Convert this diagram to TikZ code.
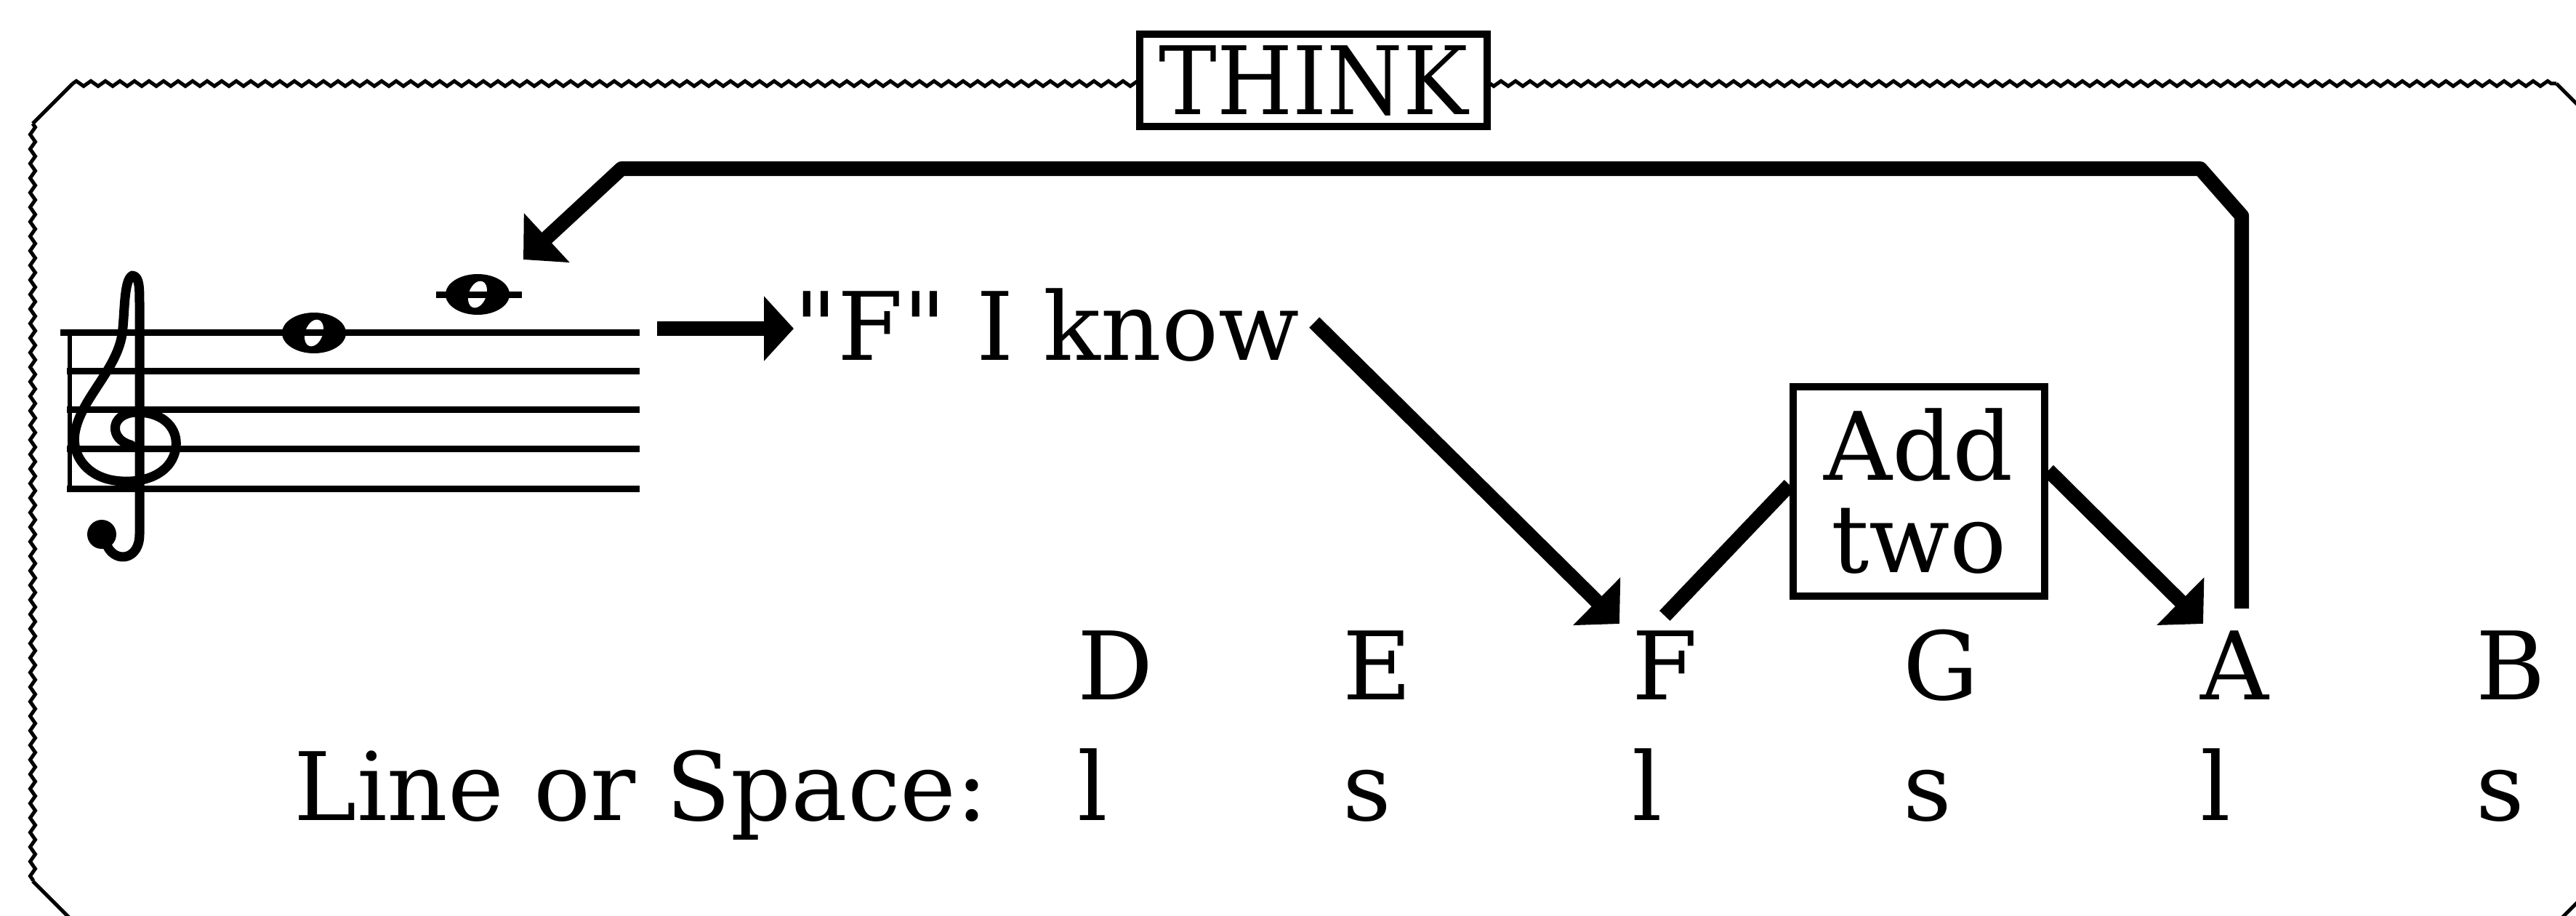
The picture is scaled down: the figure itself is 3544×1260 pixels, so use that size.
\documentclass[tikz,border=0pt]{standalone}
\usepackage{fontspec}
\setmainfont{DejaVu Serif}[Ligatures=TeXOff]
\usetikzlibrary{arrows.meta,decorations.pathmorphing,calc}
\tikzset{
  txt/.style={inner sep=0pt, font=\fontsize{130}{127}\selectfont},
  thickln/.style={line width=20pt},
  boxed/.style={draw, line width=10pt, fill=white},
  edgezz/.style={line width=5pt, decorate, decoration={zigzag, segment length=20pt, amplitude=3.5pt}},
  edgeplain/.style={line width=5pt},
  headD/.style={-{Triangle[length=44pt,width=90pt]}},
  headH/.style={-{Triangle[length=41pt,width=87pt]}},
  staffline/.style={line width=9pt},
}
\begin{document}
\begin{tikzpicture}[x=1pt,y=-1pt]
\useasboundingbox (0,0) rectangle (3544,1260);
\clip (0,0) rectangle (3544,1260);
% frame
\draw[edgezz] (100,115) -- (3517,115);
\draw[edgeplain] (3517,115) -- (3575,173);
\draw[edgezz] (3575,173) -- (3575,1212);
\draw[edgeplain] (3575,1212) -- (3517,1270);
\draw[edgezz] (45,170) -- (45,1212);
\draw[edgeplain] (45,1212) -- (103,1270);
\draw[edgeplain] (45,170) -- (100,115);
% title
\node[boxed, txt, minimum width=478pt, minimum height=127pt] (think) at (1807,111) {\scalebox{0.92}[1]{THINK}};
% notes
\coordinate (n1) at (432,458);
\coordinate (n2) at (657,405);
\fill (n1) ellipse [x radius=44pt, y radius=28pt];
\fill[white, rotate around={-20:(n1)}] (n1) ellipse [x radius=12pt, y radius=19pt];
\fill (n2) ellipse [x radius=44pt, y radius=28pt];
\fill[white, rotate around={-20:(n2)}] (n2) ellipse [x radius=12pt, y radius=19pt];
\draw[staffline] (600,405) -- (718,405);
% staff
\draw[staffline] (83,457) -- (880,457);
\foreach \y in {510,563,617,672} \draw[staffline] (92,\y) -- (880,\y);
\draw[line width=6pt] (96,457) -- (96,672);
% treble clef
\draw[line width=13pt, line cap=round, line join=round]
  (180,612) .. controls (150,605) and (150,568) .. (188,567)
  .. controls (228,567) and (245,592) .. (242,615)
  .. controls (238,648) and (205,664) .. (168,662)
  .. controls (122,660) and (98,628) .. (103,596)
  .. controls (110,550) and (160,510) .. (168,460)
  .. controls (172,430) and (170,385) .. (182,379)
  .. controls (192,380) and (192,395) .. (192,420)
  -- (192,735)
  .. controls (192,770) and (160,775) .. (148,752);
\fill (140,735) circle (20pt);
% texts
\node[txt, anchor=base west] (know) at (1092,495) {"F" I know};
\node[txt, anchor=base west] (nD) at (1482,962) {D};
\node[txt, anchor=base west] (nE) at (1847,962) {E};
\node[txt, anchor=base west] (nF) at (2245,962) {F};
\node[txt, anchor=base west] (nG) at (2618,962) {G};
\node[txt, anchor=base west] (nA) at (3027,962) {A};
\node[txt, anchor=base west] (nB) at (3406,962) {B};
\node[txt, anchor=base east] (los) at (1360,1128) {Line or Space:};
\node[txt, anchor=base west] (lD) at (1482,1128) {l};
\node[txt, anchor=base west] (lE) at (1847,1128) {s};
\node[txt, anchor=base west] (lF) at (2245,1128) {l};
\node[txt, anchor=base west] (lG) at (2618,1128) {s};
\node[txt, anchor=base west] (lA) at (3027,1128) {l};
\node[txt, anchor=base west] (lB) at (3406,1128) {s};
\node[boxed, txt, minimum width=346pt, minimum height=288pt, align=center] (add) at (2640,676) {Add\\two};
% connectors
\coordinate (sArr) at (904,452);
\draw[thickln, headH] (sArr) -- (sArr -| know.west);
\draw[thickln, headD] ([xshift=20pt,yshift=3pt]know.east) -- ([xshift=-17pt,yshift=9pt]nF.north west);
\draw[thickln] ([yshift=20pt]nF.north) -- ([yshift=9pt]add.west);
\draw[thickln, headD] ([yshift=29pt]add.east) -- ([xshift=4pt,yshift=9pt]nA.north west);
\coordinate (r1) at (3086,297);
\coordinate (r2) at (3027,232);
\coordinate (r3) at (855,232);
\coordinate (rs) at ([xshift=10pt,yshift=30pt]nA.north);
\draw[thickln, headD, line join=round] (rs) -- (rs |- r1) -- (r2) -- (r3) -- ($(n2)+(63,-48)$);
\end{tikzpicture}
\end{document}
